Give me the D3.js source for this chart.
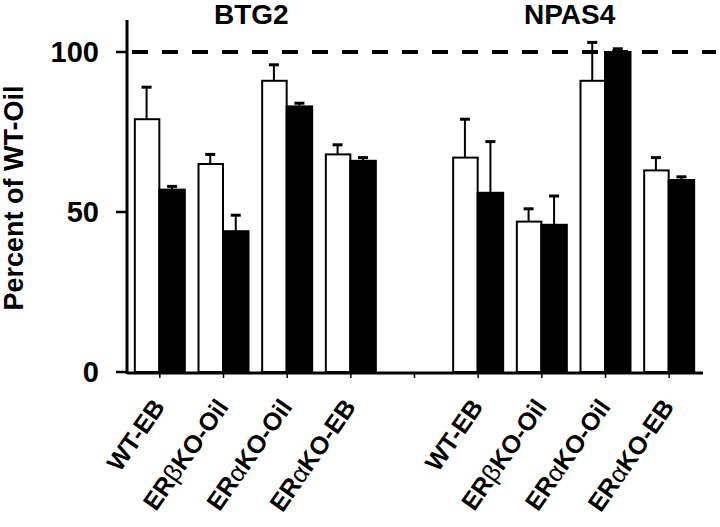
<!DOCTYPE html>
<html><head><meta charset="utf-8">
<script src="https://cdn.jsdelivr.net/npm/d3@7"></script>
<style>
html,body{margin:0;padding:0;background:#fff;}
svg{display:block;font-family:Arial,"Liberation Sans",Helvetica,sans-serif;}
</style></head>
<body>
<svg id="chart" width="720" height="527"></svg>
<script>
// ---- data ----
const genes = ["BTG2", "NPAS4"];
const categories = ["WT-EB", "ERβKO-Oil", "ERαKO-Oil", "ERαKO-EB"];
const whiteValues = [79, 65, 91, 68, 67, 47, 91, 63];
const whiteErrors = [10, 3, 5, 3, 12, 4, 12, 4];
const blackValues = [57, 44, 83, 66, 56, 46, 100, 60];
const blackErrors = [1, 5, 1, 1, 16, 9, 1, 1];
const yTicks = [0, 50, 100];
const yTitle = "Percent of WT-Oil";
const referenceLine = 100;

// ---- layout ----
const svg = d3.select("#chart");
const axisX = 127, axisY = 373;

// 9 slots: 4 BTG2, gap, 4 NPAS4
const slots = [];
genes.forEach((g, gi) => {
  categories.forEach((c, ci) => slots.push({gene: g, cat: c, idx: gi * 4 + ci, key: g + "|" + c}));
  if (gi === 0) slots.push({gene: null, cat: "", idx: -1, key: "gap"});
});

const x = d3.scaleBand().domain(slots.map(d => d.key)).range([128, 701]).padding(0);
const inner = d3.scaleBand().domain(["white", "black"]).range([-26, 25]).padding(0);
const y = d3.scaleLinear().domain([0, 100]).range([372, 52]);

const center = k => x(k) + x.bandwidth() / 2;

// bars data
const bars = [];
slots.filter(s => s.idx >= 0).forEach(s => {
  bars.push({key: s.key, series: "white", v: whiteValues[s.idx], e: whiteErrors[s.idx]});
  bars.push({key: s.key, series: "black", v: blackValues[s.idx], e: blackErrors[s.idx]});
});

// reference dashed line
svg.append("line")
  .attr("x1", 132).attr("x2", 716)
  .attr("y1", y(referenceLine)).attr("y2", y(referenceLine))
  .attr("stroke", "#000").attr("stroke-width", 4)
  .attr("stroke-dasharray", "16,14");

// error bars (upper only)
const eb = svg.append("g");
bars.forEach(b => {
  const cx = center(b.key) + inner(b.series) + inner.bandwidth() / 2;
  eb.append("line").attr("x1", cx).attr("x2", cx)
    .attr("y1", y(b.v)).attr("y2", y(b.v + b.e))
    .attr("stroke", "#000").attr("stroke-width", 2);
  eb.append("line").attr("x1", cx - 5).attr("x2", cx + 5)
    .attr("y1", y(b.v + b.e)).attr("y2", y(b.v + b.e))
    .attr("stroke", "#000").attr("stroke-width", 3);
});

// bars
svg.append("g").selectAll("rect").data(bars).join("rect")
  .attr("x", d => center(d.key) + inner(d.series) + (d.series === "white" ? 1 : 0))
  .attr("width", d => inner.bandwidth() - (d.series === "white" ? 1 : 0))
  .attr("y", d => y(d.v))
  .attr("height", d => y(0) - y(d.v))
  .attr("fill", d => d.series === "white" ? "#fff" : "#000")
  .attr("stroke", "#000").attr("stroke-width", 2);

// y axis
const yAxis = svg.append("g");
yAxis.append("line").attr("x1", axisX).attr("x2", axisX).attr("y1", 20).attr("y2", axisY + 1)
  .attr("stroke", "#000").attr("stroke-width", 3);
yTicks.forEach(t => {
  yAxis.append("line").attr("x1", 116).attr("x2", axisX).attr("y1", y(t)).attr("y2", y(t))
    .attr("stroke", "#000").attr("stroke-width", 2.5);
  yAxis.append("text").attr("x", 99).attr("y", y(t)).attr("dy", "0.36em")
    .attr("text-anchor", "end").attr("font-size", 29).attr("font-weight", "bold")
    .text(t);
});

// x axis
const xAxis = svg.append("g");
xAxis.append("line").attr("x1", axisX).attr("x2", 703).attr("y1", axisY).attr("y2", axisY)
  .attr("stroke", "#000").attr("stroke-width", 3);
slots.forEach(s => {
  const cx = center(s.key);
  xAxis.append("line").attr("x1", cx).attr("x2", cx).attr("y1", axisY).attr("y2", axisY + 5)
    .attr("stroke", "#000").attr("stroke-width", 1.5);
  if (!s.cat) return;
  const t = xAxis.append("text")
    .attr("transform", `translate(${cx + 6},${407}) rotate(-55)`)
    .attr("text-anchor", "end").attr("font-size", 25).attr("font-weight", "bold");
  const m = s.cat.match(/^(ER)([αβ])(.*)$/);
  if (m) {
    t.append("tspan").text(m[1]);
    t.append("tspan").attr("font-weight", "normal").text(m[2]);
    t.append("tspan").text(m[3]);
  } else {
    t.text(s.cat);
  }
});

// gene titles
genes.forEach((g, gi) => {
  const keys = slots.filter(s => s.gene === g).map(s => center(s.key));
  svg.append("text").attr("x", d3.mean(keys) - 4).attr("y", 24)
    .attr("text-anchor", "middle").attr("font-size", 28).attr("font-weight", "bold")
    .text(g);
});

// y title
svg.append("text")
  .attr("transform", `translate(23,198) rotate(-90)`)
  .attr("text-anchor", "middle").attr("font-size", 27).attr("font-weight", "bold")
  .text(yTitle);
</script>
</body></html>
